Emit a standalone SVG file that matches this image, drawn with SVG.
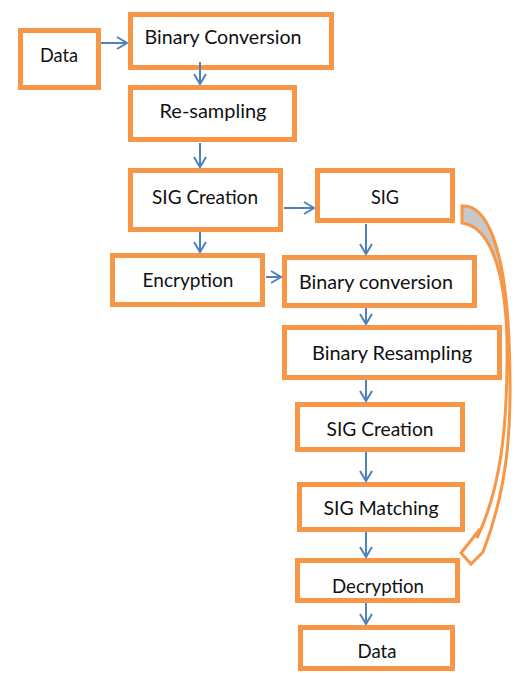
<svg xmlns="http://www.w3.org/2000/svg" width="515" height="673" viewBox="0 0 515 673">
<style>
.box{fill:#fff;stroke:#F79646;stroke-width:5}
.lbl{font-family:Lato,"Liberation Sans",sans-serif;font-size:20px;fill:#111;text-anchor:middle}
.con{stroke:#4F81BD;stroke-width:2;fill:none;marker-end:url(#ah)}
</style>
<defs>
<marker id="ah" markerUnits="userSpaceOnUse" viewBox="-12 -8 14 16" markerWidth="14" markerHeight="16" refX="0" refY="0" orient="auto">
<path d="M-10,-6 L0,0 L-10,6" fill="none" stroke="#4F81BD" stroke-width="2"/>
</marker>
<linearGradient id="rg" gradientUnits="userSpaceOnUse" x1="0" y1="205" x2="0" y2="560">
<stop offset="0" stop-color="#C8C8C8"/>
<stop offset="0.22" stop-color="#C8C8C8"/>
<stop offset="0.3" stop-color="#fff"/>
<stop offset="1" stop-color="#fff"/>
</linearGradient>
</defs>
<rect width="515" height="673" fill="#fff"/>
<g id="data1"><rect class="box" x="20.5" y="30.5" width="78" height="57"/><text class="lbl" x="59" y="62" textLength="38" lengthAdjust="spacingAndGlyphs">Data</text></g>
<g id="binary-conversion1"><rect class="box" x="130.5" y="14.5" width="201" height="53"/><text class="lbl" x="223" y="44" textLength="157" lengthAdjust="spacingAndGlyphs">Binary Conversion</text></g>
<g id="resampling"><rect class="box" x="130.5" y="87.5" width="164" height="52"/><text class="lbl" x="213" y="118" textLength="107" lengthAdjust="spacingAndGlyphs">Re-sampling</text></g>
<g id="sig-creation1"><rect class="box" x="130.5" y="170.5" width="150" height="59"/><text class="lbl" x="205" y="204" textLength="106" lengthAdjust="spacingAndGlyphs">SIG Creation</text></g>
<g id="sig"><rect class="box" x="317.5" y="170.5" width="135" height="50"/><text class="lbl" x="385" y="204" textLength="28" lengthAdjust="spacingAndGlyphs">SIG</text></g>
<g id="encryption"><rect class="box" x="112.5" y="255.5" width="150" height="49"/><text class="lbl" x="188" y="287" textLength="91" lengthAdjust="spacingAndGlyphs">Encryption</text></g>
<g id="binary-conversion2"><rect class="box" x="284.5" y="257.5" width="190" height="48"/><text class="lbl" x="376" y="289" textLength="154" lengthAdjust="spacingAndGlyphs">Binary conversion</text></g>
<g id="binary-resampling"><rect class="box" x="284.5" y="327.5" width="215" height="50"/><text class="lbl" x="392" y="360" textLength="160" lengthAdjust="spacingAndGlyphs">Binary Resampling</text></g>
<g id="sig-creation2"><rect class="box" x="297.5" y="404.5" width="165" height="45"/><text class="lbl" x="380" y="436" textLength="107" lengthAdjust="spacingAndGlyphs">SIG Creation</text></g>
<g id="sig-matching"><rect class="box" x="299.5" y="484.5" width="163" height="45"/><text class="lbl" x="381" y="515" textLength="115" lengthAdjust="spacingAndGlyphs">SIG Matching</text></g>
<g id="decryption"><rect class="box" x="297.5" y="560.5" width="160" height="40"/><text class="lbl" x="378" y="593" textLength="92" lengthAdjust="spacingAndGlyphs">Decryption</text></g>
<g id="data2"><rect class="box" x="300.5" y="627.5" width="152" height="41"/><text class="lbl" x="377" y="658" textLength="39" lengthAdjust="spacingAndGlyphs">Data</text></g>
<g id="connectors">
<line class="con" x1="101" y1="43" x2="127" y2="43"/>
<line class="con" x1="200" y1="62" x2="200" y2="84"/>
<line class="con" x1="200" y1="143" x2="200" y2="167"/>
<line class="con" x1="284" y1="208" x2="314" y2="208"/>
<line class="con" x1="200" y1="232" x2="200" y2="252"/>
<line class="con" x1="366" y1="224" x2="366" y2="254"/>
<line class="con" x1="266" y1="277" x2="281" y2="277"/>
<line class="con" x1="366" y1="308" x2="366" y2="324"/>
<line class="con" x1="366" y1="380" x2="366" y2="401"/>
<line class="con" x1="366" y1="452" x2="366" y2="481"/>
<line class="con" x1="366" y1="532" x2="366" y2="557"/>
<line class="con" x1="366" y1="603" x2="366" y2="624"/>
<g id="return-arrow">
<path d="M462,206 C486,204 505,245 509,340 C513,430 507,490 483,552 L471,564 L461,553 L480,529 L477,538 C500,490 508,430 507,340 C505,260 486,226 462,223 Z" fill="url(#rg)" stroke="#F79646" stroke-width="3" stroke-linejoin="miter"/>
</g>
</g>
</svg>
